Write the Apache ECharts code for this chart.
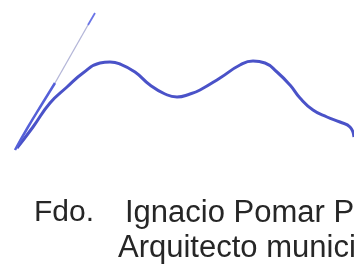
<!DOCTYPE html>
<html>
<head>
<meta charset="utf-8">
<script src="https://cdn.jsdelivr.net/npm/echarts@6/dist/echarts.min.js"></script>
<style>
  html, body { margin: 0; padding: 0; background: #fff; }
  #chart { width: 354px; height: 269px; }
</style>
</head>
<body>
<div id="chart"></div>
<script>
// firma: trazo principal (x, y en px de la imagen)
const mainX = [17, 33, 50, 67, 83, 100, 110, 120, 135, 150, 165, 177, 190, 200, 220, 240, 253, 265, 277, 290, 300, 313, 327, 340, 350, 354]
const mainY = [148, 127, 103, 87, 73, 63, 62, 64, 72, 85, 94, 97, 94, 90, 78, 65, 61, 63, 72, 85, 98, 110, 117, 122, 127, 137]
// trazo inicial (parte gruesa)
const leadX = [15, 28, 42, 55]
const leadY = [150, 127, 104, 83]
// trazo inicial (parte fina)
const hairX = [55, 88]
const hairY = [83, 25]
// remate superior
const tipX = [88, 95]
const tipY = [25, 13]
// texto
const sign = 'Fdo.'
const name = 'Ignacio Pomar Pérez'
const role = 'Arquitecto municipal'

const toPts = (xs, ys) => xs.map((x, i) => [x, ys[i]])
const font = '31px "Liberation Sans", Arial, sans-serif'

const chart = echarts.init(document.getElementById('chart'))
const option = {
  animation: false,
  grid: { left: 0, right: 0, top: 0, bottom: 0 },
  xAxis: { type: 'value', min: 0, max: 354, show: false },
  yAxis: { type: 'value', min: 0, max: 269, inverse: true, show: false },
  series: [
    {
      type: 'line',
      data: toPts(mainX, mainY),
      smooth: 0.5,
      showSymbol: false,
      lineStyle: { color: '#4a52c8', width: 3 }
    },
    {
      type: 'line',
      data: toPts(leadX, leadY),
      smooth: true,
      showSymbol: false,
      lineStyle: { color: '#5560d8', width: 2.5 }
    },
    {
      type: 'line',
      data: toPts(hairX, hairY),
      showSymbol: false,
      lineStyle: { color: '#b4b6d8', width: 1.3 }
    },
    {
      type: 'line',
      data: toPts(tipX, tipY),
      showSymbol: false,
      lineStyle: { color: '#6a74e6', width: 1.8 }
    }
  ],
  graphic: [
    {
      type: 'text',
      left: 34,
      top: 198,
      style: { text: sign, font: '30px "Liberation Sans", Arial, sans-serif', fill: '#262626' }
    },
    {
      type: 'text',
      left: 125,
      top: 198,
      style: { text: name, font: font, fill: '#262626' }
    },
    {
      type: 'text',
      left: 118,
      top: 233,
      style: { text: role, font: font, fill: '#262626' }
    }
  ]
}
chart.setOption(option)
</script>
</body>
</html>
